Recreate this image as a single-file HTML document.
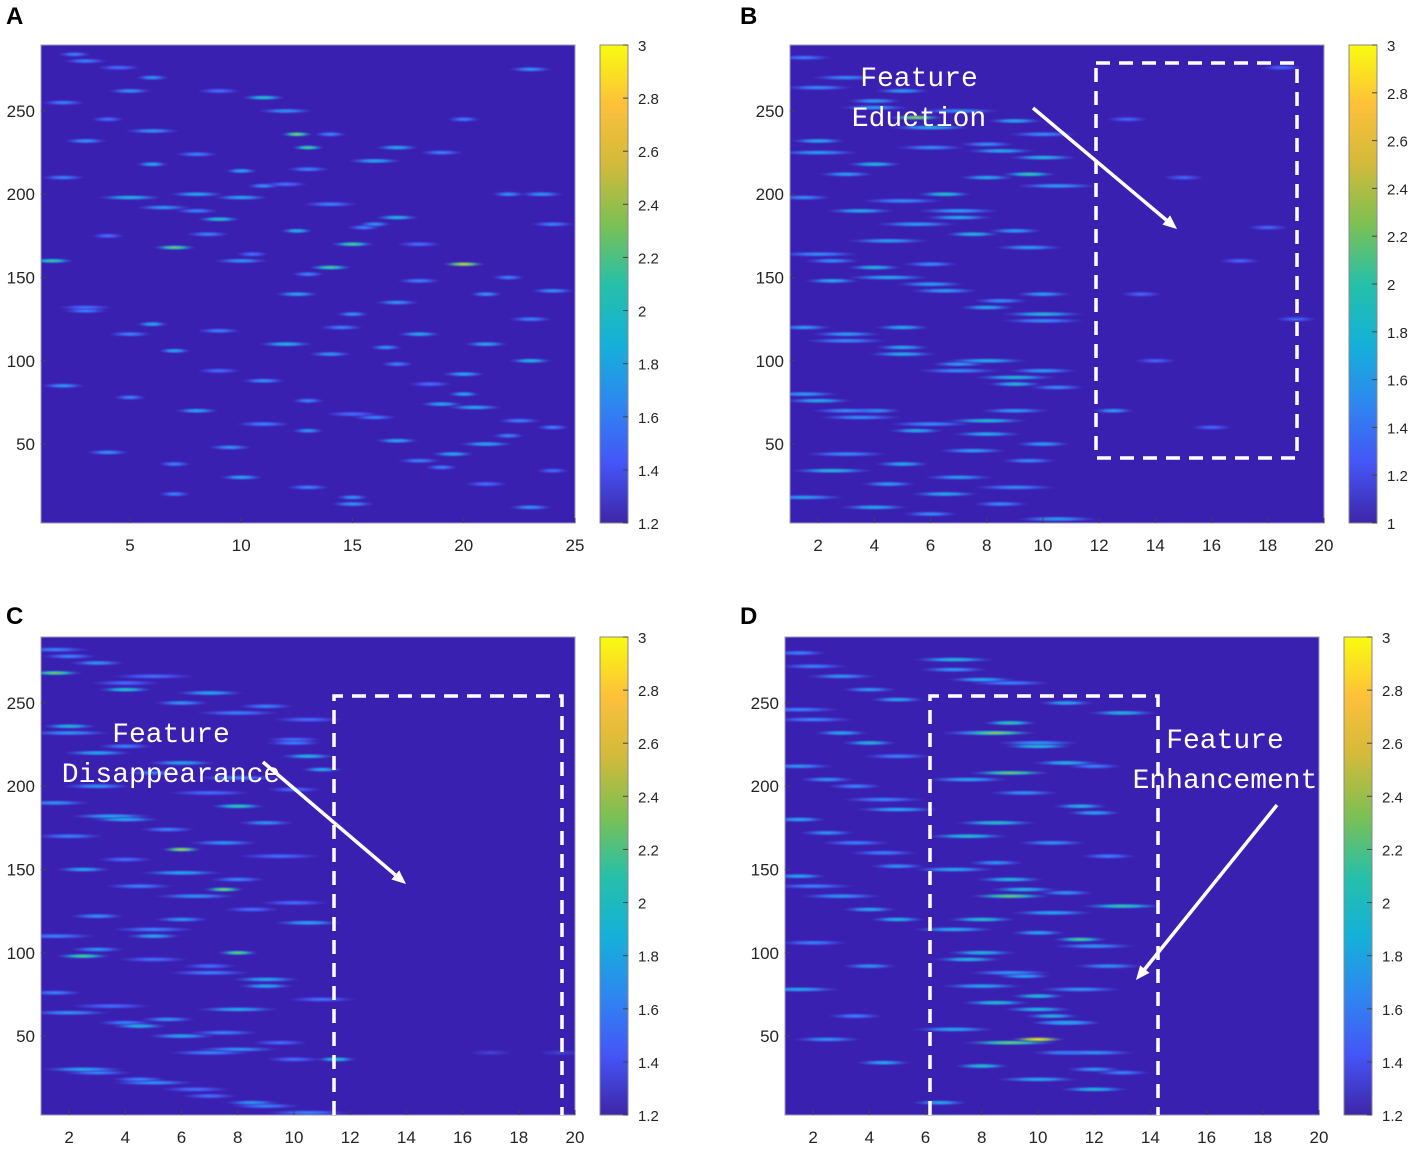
<!DOCTYPE html>
<html><head><meta charset="utf-8"><style>
body{margin:0;background:#fff;}
svg text{font-family:"Liberation Sans",sans-serif;}
svg text.anno{font-family:"Liberation Mono",monospace;}
</style></head><body>
<svg id="fig" width="1417" height="1147" viewBox="0 0 1417 1147" xmlns="http://www.w3.org/2000/svg">
<defs>
<linearGradient id="cbar" x1="0" y1="1" x2="0" y2="0">
<stop offset="0" stop-color="#3e26a8"/><stop offset="0.125" stop-color="#4555f7"/><stop offset="0.25" stop-color="#2e87f0"/><stop offset="0.375" stop-color="#14b1d8"/><stop offset="0.5" stop-color="#27c0a8"/><stop offset="0.625" stop-color="#7cc053"/><stop offset="0.75" stop-color="#d2ba3a"/><stop offset="0.875" stop-color="#fdc03a"/><stop offset="1" stop-color="#f9fb0e"/>
</linearGradient>
</defs>
</svg>
<script>
// Panel A streaks
const aX=[3,6,9,12,14,17,20,23,2,5,8,11,13,16,19,22,24,4,7,10,13,15,18,21,3,6,9,12,14,17,20,23,2,5,8,11,13,16,19,22,4,7,10,13,15,18,21,24,3,6,9,12.5,14,17,20,23,5,10,15,19.5,12.5,13,8,11,17,21,7,15,
  2,4,6,8,10,12,14,16,18,20,22,24,3,5,7,9,11,13,15,17,19,21,23,2.5,4.5,6.5,8.5,10.5,12.5,14.5,16.5,18.5,20.5,22.5,24,1.5,9.5,15.5,18,23.5];
const aY=[280,270,262,250,236,228,245,275,210,198,190,205,215,220,225,200,182,175,168,160,152,170,148,140,130,122,118,110,104,98,92,125,85,78,70,62,58,66,74,55,45,38,30,24,18,40,50,60,232,218,185,178,156,135,80,100,262,198,128,44,236,228,200,258,186,110,20,14,
  255,245,238,224,214,206,194,182,170,158,150,142,132,116,106,94,88,76,68,52,36,26,12,284,276,192,176,164,140,120,108,86,72,64,34,160,48,180,116,200];
const aL=[2,1.5,2,2.5,1.5,2,1.5,2,2,3,2,1.5,2,2.5,2,1.5,2,1.5,2,2.5,1.5,2,2,1.5,2,1.5,2,2.5,2,1.5,2,2,2,1.5,2,2.5,1.5,2,2,1.5,2,1.5,2,2,1.5,2,2.5,1.5,2,1.5,2,1.5,2,2,1.5,2,2,2.5,1.5,2,1.5,1.5,2.5,2,2,2,1.5,2,
  2,1.5,2.5,2,1.5,2,2.5,1.5,2,2,1.5,2,2.5,2,1.5,2,2,1.5,2.5,2,1.5,2,2,1.5,2,2.5,2,1.5,2,2,1.5,2,2.5,2,1.5,2,2,1.5,2,2];
const aV=[1.6,1.7,1.5,1.7,1.6,1.8,1.6,1.7,1.6,1.9,1.6,1.7,1.6,1.8,1.6,1.7,1.6,1.5,2.3,1.7,1.6,2.2,1.6,1.7,1.6,1.8,1.6,1.9,1.7,1.6,1.8,1.6,1.7,1.6,1.8,1.6,1.7,1.6,1.8,1.6,1.7,1.6,1.8,1.6,1.7,1.6,1.8,1.6,1.7,1.8,2.0,1.9,2.2,1.7,1.8,1.9,1.7,1.8,1.7,1.8,2.4,2.2,1.8,2.0,1.9,1.8,1.6,1.7,
  1.6,1.5,1.7,1.6,1.8,1.5,1.6,1.7,1.5,2.6,1.6,1.7,1.5,1.6,1.8,1.5,1.7,1.6,1.5,1.8,1.6,1.5,1.7,1.6,1.5,1.7,1.6,1.5,1.8,1.6,1.7,1.5,1.8,1.6,1.5,2.1,1.7,1.6,1.8,1.7];
// Panel B
const bX=[1.5,3,5,7,9,10,2,4,6,8,10.5,1.5,3.5,5.5,7.5,9.5,2.5,4.5,6.5,8.5,10,1.5,3,5,7,9,10.5,2,4,6,8,10,3,5,7,9,1.5,4,6,8,10,2.5,4.5,6.5,8.5,5.5,9,13,15,17,19,14,16,18,13.5,12.5,18.5,
  2,4,6,8,10,3,5,7,9,2,4,6,8,10,3,5,7,9,1.5,3.5,5.5,7.5,9.5,2.5,4.5,6.5,8.5,10.5,2,4,6,8,10,3,5,7,9.5,10];
const bY=[282,270,262,250,244,236,225,218,228,210,205,198,190,182,176,168,160,150,142,136,128,120,112,104,98,90,84,76,70,62,56,50,44,38,30,24,18,12,8,64,94,148,172,200,226,246,70,245,210,160,125,100,60,180,140,70,
  276,264,256,240,230,222,212,196,186,178,164,156,146,132,124,116,108,94,86,80,66,58,46,40,34,26,20,14,5,232,252,158,100,140,70,120,190,212];
const bL=[2,2.5,2,3,2,2.5,3,2,2.5,2,3,2,2.5,3,2,2.5,2,3,2.5,2,3,2,3,2.5,2,3,2,2.5,2,3,2.5,2,3,2,2.5,3,3,2.5,2,3,2.5,2,3,2,2.5,2,2.5,1.5,1.5,1.5,1.5,1.5,1.5,1.5,1.5,1.5,1.5,
  2.5,2,3,2,2.5,2,3,2.5,2,3,2,2.5,2,3,2.5,2,3,2,2.5,3,2,2.5,2,3,2,2.5,2,3,2,2.5,2,3,2,2.5,2,3,2,2];
const bV=[1.4,1.5,1.6,1.5,1.7,1.5,1.6,1.8,1.5,1.7,1.6,1.5,1.7,1.6,1.8,1.6,1.5,1.7,1.6,1.5,1.8,1.6,1.5,1.7,1.6,1.8,1.5,1.7,1.6,1.5,1.7,1.6,1.5,1.7,1.6,1.5,1.6,1.7,1.5,1.8,1.6,1.7,1.6,1.9,1.7,2.4,1.6,1.3,1.3,1.3,1.3,1.3,1.3,1.3,1.3,1.6,1.3,
  1.5,1.6,1.7,1.5,1.8,1.6,1.5,1.7,1.6,1.5,1.8,1.6,1.7,1.5,1.6,1.7,1.5,1.8,1.6,1.5,1.7,1.6,1.5,1.8,1.6,1.7,1.5,1.6,1.7,1.6,1.5,1.7,1.6,1.5,1.7,1.6,2.0,1.9];
// Panel C
const cX=[1.5,3,5,7,9,10.5,2,4,6,8,10,1.5,3.5,5.5,7.5,9.5,2.5,4.5,6.5,8.5,10.5,1.5,3,5,7,9,11,2,4,6,8,10,3,5,7,9,1.5,4,6,8,10.5,2.5,4.5,7.5,8,11.5,11,17,19.5,
  2,4,6,8,10,3,5,7,9,2,4,6,8,10,3,5,7,9,1.5,3.5,5.5,7.5,9.5,2.5,4.5,6.5,8.5,10.5,2,4,6,8,10,3,5,7];
const cY=[282,274,266,256,248,240,232,224,214,205,198,190,182,174,166,158,150,140,134,126,118,110,102,96,88,80,72,64,58,50,42,36,28,22,14,8,268,258,162,188,218,98,56,138,100,36,210,40,40,
  278,262,250,244,228,220,208,196,178,170,156,148,144,130,122,114,92,84,76,68,60,52,46,30,24,18,10,4,236,180,120,66,226,200,110,40];
const cL=[2.5,2,3,2.5,2,2.5,3,2,2.5,3,2,2.5,3,2,2.5,3,2,2.5,3,2,2.5,3,2,2.5,3,2,2.5,3,2,2.5,3,2,2.5,3,2,2.5,2,2,1.5,2,2,2,2,1.5,1.5,1.5,1.5,1.5,1.5,
  2,2.5,2,3,2,2.5,2,3,2,2.5,2,3,2,2.5,2,3,2,2.5,2,3,2,2.5,2,3,2,2.5,2,3,2,2.5,2,3,2,2.5,2,3];
const cV=[1.6,1.7,1.5,1.8,1.6,1.5,1.7,1.6,1.8,1.6,1.5,1.7,1.8,1.6,1.7,1.5,1.8,1.6,1.7,1.5,1.8,1.6,1.7,1.5,1.6,1.8,1.5,1.7,1.6,1.8,1.7,1.5,1.6,1.7,1.5,1.6,2.3,2.0,2.5,2.1,1.9,2.2,1.9,2.4,2.3,2.0,1.8,1.3,1.3,
  1.6,1.5,1.7,1.6,1.5,1.8,1.6,1.5,1.7,1.6,1.5,1.8,1.6,1.5,1.7,1.6,1.5,1.8,1.6,1.5,1.7,1.6,1.5,1.8,1.6,1.5,1.7,1.6,1.9,1.8,1.7,1.8,1.6,1.7,1.8,1.6];
// Panel D
const dX=[1.5,3,5,2,4,1.5,3.5,5,2.5,4.5,1.5,3,5,2,4,1.5,3.5,2.5,4.5,7,9,11,13,8,10,12,7.5,9.5,11.5,8.5,10.5,12.5,7,9,11,13,8,10,12,7.5,9.5,11.5,8.5,10.5,7,9,11,8,10,12,10,6.5,8.5,9,
  2,4,1.5,3,5,2.5,4.5,1.5,3.5,5,2,4,7,8,9,10,11,12,13,7,8,9,10,11,12,7.5,8.5,9.5,10.5,11.5,12.5,8,10,12,9,11];
const dY=[280,266,252,240,226,212,200,186,172,160,146,134,120,106,92,78,62,48,34,270,262,250,244,232,224,212,204,196,188,178,166,158,150,144,136,128,120,112,104,96,86,78,70,62,54,46,40,32,24,18,48,10,232,208,
  272,258,246,232,218,204,192,180,166,152,140,126,114,100,88,74,58,40,28,276,264,238,226,214,184,170,154,138,124,108,92,80,66,30,134,58];
const dL=[2,2.5,2,3,2,2.5,2,3,2,2.5,2,3,2,2.5,2,3,2,2.5,2,2.5,3,2,2.5,3,2.5,2,3,2.5,2,3,2.5,2,3,2.5,2,3,2.5,2,3,2.5,2,3,2.5,2,3,3.5,2.5,2,3,2.5,2,2,3,3,
  2.5,2,3,2,2.5,2,3,2,2.5,2,3,2,3,2.5,3,2,2.5,3,2,3,2.5,2,3,2.5,2,3,2,2.5,3,2,2.5,3,2.5,2,3,2.5];
const dV=[1.6,1.7,1.8,1.6,1.9,1.7,1.6,1.8,1.7,1.6,1.8,1.7,1.9,1.6,1.7,1.8,1.6,1.7,1.8,1.7,1.6,1.8,1.9,1.7,2.0,1.6,1.8,1.7,1.9,2.0,1.7,1.6,1.8,1.9,1.7,2.1,2.0,1.8,1.7,1.9,1.8,1.7,2.0,1.9,1.8,2.3,1.7,2.0,1.8,1.9,2.8,1.8,2.4,2.3,
  1.6,1.7,1.6,1.8,1.6,1.7,1.6,1.8,1.6,1.7,1.6,1.8,1.8,1.9,1.7,2.0,1.8,1.7,1.6,1.9,1.8,2.1,1.7,1.9,1.8,2.0,1.7,1.9,1.8,2.2,1.7,1.8,1.9,1.7,2.3,1.8];
const yTicks=[50,100,150,200,250];
const xTicksA=[5,10,15,20,25];
const xTicks20=[2,4,6,8,10,12,14,16,18,20];
const cbTicksA=[1.2,1.4,1.6,1.8,2,2.2,2.4,2.6,2.8,3];
const cbTicksB=[1,1.2,1.4,1.6,1.8,2,2.2,2.4,2.6,2.8,3];

const NS="http://www.w3.org/2000/svg";
const svg=document.getElementById('fig');
const defs=svg.querySelector('defs');
function el(t,a,p){const e=document.createElementNS(NS,t);for(const k in a)e.setAttribute(k,a[k]);(p||svg).appendChild(e);return e;}
const stops=[[0,[62,38,168]],[0.125,[69,85,247]],[0.25,[46,135,240]],[0.375,[20,177,216]],[0.5,[39,192,168]],[0.625,[124,192,83]],[0.75,[210,186,58]],[0.875,[253,192,58]],[1,[249,251,14]]];
function cmap(t){t=Math.max(0,Math.min(1,t));for(let i=1;i<stops.length;i++){if(t<=stops[i][0]){const a=stops[i-1],b=stops[i];const f=(t-a[0])/(b[0]-a[0]);const c=a[1].map((v,j)=>Math.round(v+(b[1][j]-v)*f));return `rgb(${c})`;}}return 'rgb(249,251,14)';}
let gid=0;
function panel(cfg,X,Y,L,V){
  const g=el('g',{});
  
  
  const {x0,y0,w,h,xmin,xmax,ymin,ymax,cmin,cmax}=cfg;
  const xs=v=>x0+(v-xmin)/(xmax-xmin)*w;
  const ys=v=>y0+h-(v-ymin)/(ymax-ymin)*h;
  const clipId='clip'+cfg.name;
  const cp=el('clipPath',{id:clipId},defs);el('rect',{x:x0,y:y0,width:w,height:h},cp);
  const bg=el('rect',{x:x0,y:y0,width:w,height:h,fill:'#3a20b0'},g);
  
  
  const mg=el('g',{'clip-path':`url(#${clipId})`},g);
  for(let i=0;i<X.length;i++){
    const id='sg'+(gid++);
    const rg=el('radialGradient',{id:id},defs);
    const t=(V[i]-cmin)/(cmax-cmin);
    el('stop',{offset:'0','stop-color':cmap(t+0.05)},rg);
    el('stop',{offset:'0.4','stop-color':cmap(t*0.75),'stop-opacity':'0.9'},rg);
    el('stop',{offset:'1','stop-color':'#4040d8','stop-opacity':'0'},rg);
    const rx=L[i]*(w/(xmax-xmin))/2;
    const e=el('ellipse',{cx:xs(X[i]),cy:ys(Y[i]),rx:rx,ry:3.2,fill:`url(#${id})`},mg);
    
    
  }
  const fr=el('rect',{x:x0,y:y0,width:w,height:h,fill:'none',stroke:'#9a9ab8','stroke-width':1},g);
  
  
  cfg.xt.forEach(v=>{
    el('line',{x1:xs(v),x2:xs(v),y1:y0+h,y2:y0+h-5,stroke:'#444'},g);
    const t=el('text',{x:xs(v),y:y0+h+28,'font-size':17,'text-anchor':'middle',fill:'#262626'},g);t.textContent=v;
    
    
  });
  yTicks.forEach(v=>{
    el('line',{x1:x0,x2:x0+5,y1:ys(v),y2:ys(v),stroke:'#444'},g);
    const t=el('text',{x:x0-6,y:ys(v)+6,'font-size':17,'text-anchor':'end',fill:'#262626'},g);t.textContent=v;
    
    
  });
  const cx=cfg.cbx, cy0=y0, ch=h;
  const cb=el('rect',{x:cx,y:cy0,width:28,height:ch,fill:'url(#cbar)',stroke:'#888','stroke-width':1},g);
  
  
  const cs=v=>cy0+ch-(v-cmin)/(cmax-cmin)*ch;
  cfg.ct.forEach(v=>{
    el('line',{x1:cx+28,x2:cx+23,y1:cs(v),y2:cs(v),stroke:'#444'},g);
    const t=el('text',{x:cx+38,y:cs(v)+6,'font-size':15,fill:'#262626'},g);t.textContent=String(v);
    
    
  });
  const lb=el('text',{x:cfg.lx,y:cfg.ly,'font-size':24,'font-weight':'bold',fill:'#000'},svg);lb.textContent=cfg.label;
  
  
  return {xs,ys};
}
panel({name:'panel-a',label:'A',lx:6,ly:24,x0:41,y0:45,w:534,h:478,xmin:1,xmax:25,ymin:2.6,ymax:289.6,cmin:1.2,cmax:3,cbx:600,xt:xTicksA,ct:cbTicksA},aX,aY,aL,aV);
panel({name:'panel-b',label:'B',lx:740,ly:24,x0:790,y0:45,w:534,h:478,xmin:1,xmax:20,ymin:2.6,ymax:289.6,cmin:1,cmax:3,cbx:1349,xt:xTicks20,ct:cbTicksB},bX,bY,bL,bV);
panel({name:'panel-c',label:'C',lx:6,ly:624,x0:41,y0:637,w:534,h:478,xmin:1,xmax:20,ymin:2.6,ymax:289.6,cmin:1.2,cmax:3,cbx:600,xt:xTicks20,ct:cbTicksA},cX,cY,cL,cV);
panel({name:'panel-d',label:'D',lx:740,ly:624,x0:785,y0:637,w:534,h:478,xmin:1,xmax:20,ymin:2.6,ymax:289.6,cmin:1.2,cmax:3,cbx:1344,xt:xTicks20,ct:cbTicksA},dX,dY,dL,dV);

function dash(name,x,y,w,h,openBottom){
  const p=openBottom?`M${x},${y+h} L${x},${y} L${x+w},${y} L${x+w},${y+h}`:`M${x},${y} H${x+w} V${y+h} H${x} Z`;
  const e=el('path',{d:p,fill:'none',stroke:'#fff','stroke-width':3.5,'stroke-dasharray':'14 9'});
  
  
}
function arrow(name,x1,y1,x2,y2){
  const g=el('g',{});
  
  
  const a=Math.atan2(y2-y1,x2-x1),L=14,W=6;
  const bx=x2-L*Math.cos(a),by=y2-L*Math.sin(a);
  el('line',{x1:x1,y1:y1,x2:bx,y2:by,stroke:'#fff','stroke-width':3.5},g);
  el('polygon',{points:`${x2},${y2} ${bx-W*Math.sin(a)},${by+W*Math.cos(a)} ${bx+W*Math.sin(a)},${by-W*Math.cos(a)}`,fill:'#fff'},g);
}
function label(name,lines,cx,ys){
  lines.forEach((s,i)=>{
    const t=el('text',{x:cx,y:ys[i],'font-size':28,'text-anchor':'middle',fill:'#fff','class':'anno'});
    t.textContent=s;
    
    
  });
}
dash('dashed-region-b',1096,63,201,395,false);
arrow('arrow-b',1033,108,1177,229);
label('annotation-feature-eduction',['Feature','Eduction'],919,[86,126]);
dash('dashed-region-c',334,696,228,419,true);
arrow('arrow-c',263,762,406,884);
label('annotation-feature-disappearance',['Feature','Disappearance'],171,[742,782]);
dash('dashed-region-d',930,696,228,419,true);
arrow('arrow-d',1277,805,1136,980);
label('annotation-feature-enhancement',['Feature','Enhancement'],1225,[748,788]);
</script>
</body></html>
